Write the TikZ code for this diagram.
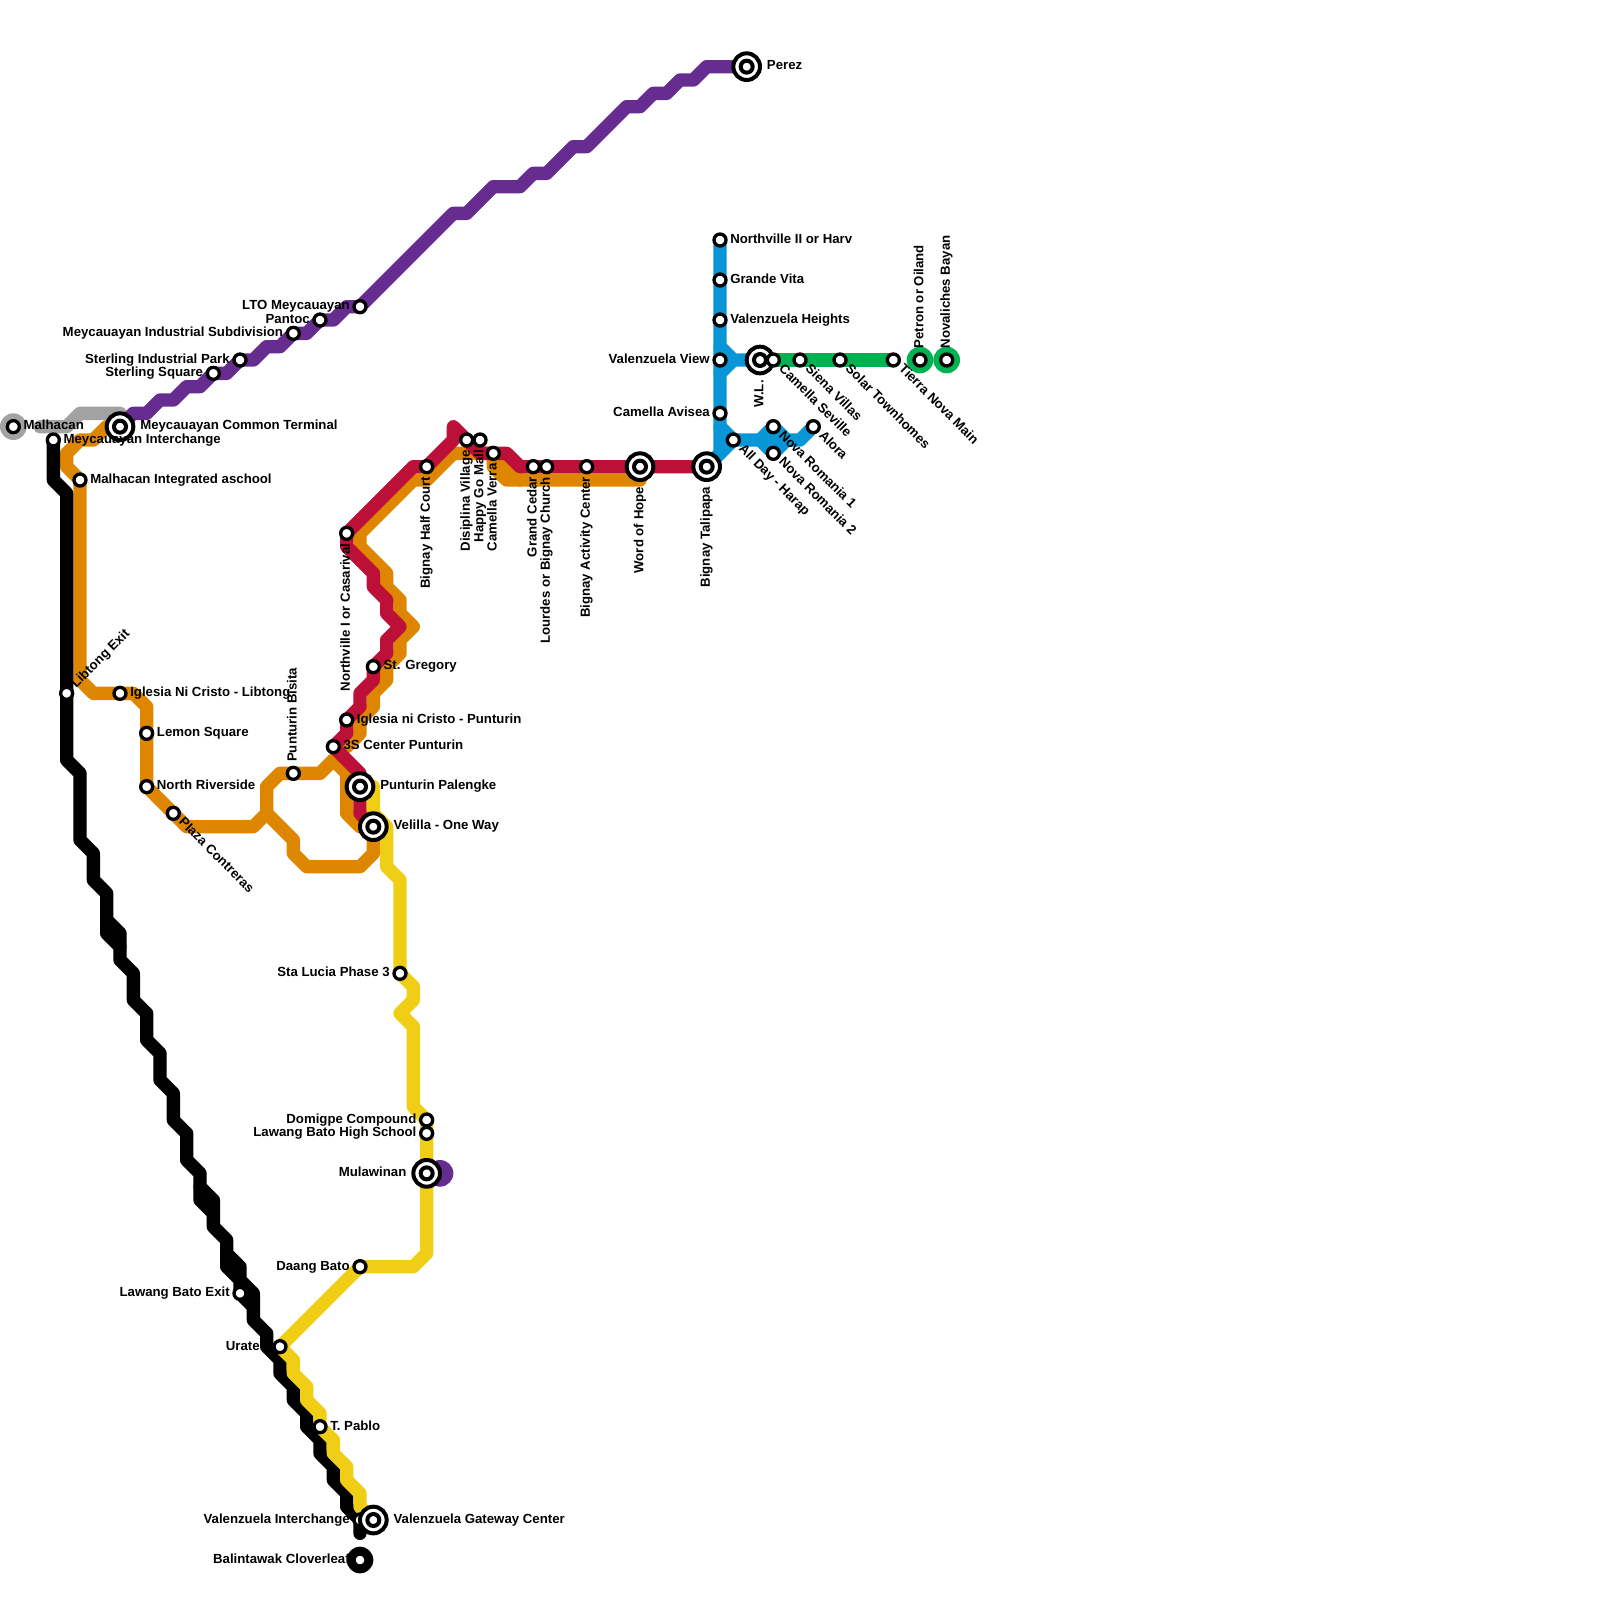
\documentclass[tikz,border=0pt]{standalone}
\usepackage{fontspec}
\setmainfont{Liberation Sans}
\usetikzlibrary{backgrounds}
\definecolor{lgray}{HTML}{A2A2A2}
\definecolor{lpurple}{HTML}{662C90}
\definecolor{lorange}{HTML}{DF8600}
\definecolor{lred}{HTML}{BD1038}
\definecolor{lyellow}{HTML}{F0CE15}
\definecolor{lblue}{HTML}{0896D7}
\definecolor{lgreen}{HTML}{00B251}
\begin{document}
\begin{tikzpicture}[x=0.33333cm, y=-0.33333cm]
    \tikzstyle{stn} = [circle, draw=black, fill=white, line width=0.0833cm, minimum size=0.3cm, inner sep=0pt, outer sep=0pt]
    \tikzstyle{hub} = [circle, draw=black, fill=white, line width=0.1cm, minimum size=0.667cm, inner sep=0pt, outer sep=0pt, path picture={\draw [line width=0.1cm, fill=white] (path picture bounding box.center) circle (0.15cm);}]
    \tikzstyle{txt} = [font=\bfseries\fontsize{9.4}{10}\selectfont, inner sep=0pt]
    \tikzstyle{lr} = [txt, anchor=base west, xshift=0.25cm, yshift=-0.083cm]
    \tikzstyle{ll} = [txt, anchor=base east, xshift=-0.25cm, yshift=-0.083cm]
    \tikzstyle{lrb} = [txt, anchor=base west, xshift=0.5cm, yshift=-0.083cm]
    \tikzstyle{llb} = [txt, anchor=base east, xshift=-0.5cm, yshift=-0.083cm]
    \tikzstyle{lu} = [txt, rotate=90, anchor=base west, xshift=0.28cm, yshift=-0.083cm]
    \tikzstyle{ld} = [txt, rotate=90, anchor=base east, xshift=-0.25cm, yshift=-0.083cm]
    \tikzstyle{ldb} = [txt, rotate=90, anchor=base east, xshift=-0.5cm, yshift=-0.083cm]
    \tikzstyle{lse} = [txt, rotate=-45, anchor=base west, xshift=0.25cm, yshift=-0.083cm]
    \tikzstyle{lne} = [txt, rotate=45, anchor=base west, xshift=0.25cm, yshift=-0.083cm]
    \tikzstyle{track} = [line width=0.3333cm, line cap=round, line join=round]

    \useasboundingbox (0,0) rectangle (120,120);

    % stations
    \node [stn] (mal) at (1,32) {};
    \node [hub] (mct) at (9,32) {};
    \node [stn] (mci) at (4,33) {};
    \node [stn] (mis) at (6,36) {};
    \node [stn] (lib) at (5,52) {};
    \node [stn] (inc) at (9,52) {};
    \node [stn] (lem) at (11,55) {};
    \node [stn] (nri) at (11,59) {};
    \node [stn] (pla) at (13,61) {};
    \node [stn] (pbi) at (22,58) {};
    \node [stn] (sts) at (16,28) {};
    \node [stn] (sip) at (18,27) {};
    \node [stn] (mid) at (22,25) {};
    \node [stn] (pan) at (24,24) {};
    \node [stn] (lto) at (27,23) {};
    \node [hub] (per) at (56,5) {};
    \node [stn] (noc) at (26,40) {};
    \node [stn] (bhc) at (32,35) {};
    \node [stn] (dis) at (35,33) {};
    \node [stn] (hgm) at (36,33) {};
    \node [stn] (cve) at (37,34) {};
    \node [stn] (gce) at (40,35) {};
    \node [stn] (lou) at (41,35) {};
    \node [stn] (bac) at (44,35) {};
    \node [hub] (woh) at (48,35) {};
    \node [hub] (bta) at (53,35) {};
    \node [stn] (stg) at (28,50) {};
    \node [stn] (icp) at (26,54) {};
    \node [stn] (scp) at (25,56) {};
    \node [hub] (ppa) at (27,59) {};
    \node [hub] (vel) at (28,62) {};
    \node [stn] (sta) at (30,73) {};
    \node [stn] (dom) at (32,84) {};
    \node [stn] (lbh) at (32,85) {};
    \node [hub] (mul) at (32,88) {};
    \node [stn] (dbt) at (27,95) {};
    \node [stn] (lbe) at (18,97) {};
    \node [stn] (ura) at (21,101) {};
    \node [stn] (tpa) at (24,107) {};
    \node [stn] (vin) at (27,114) {};
    \node [hub] (vgc) at (28,114) {};
    \node [stn] (bal) at (27,117) {};
    \node [stn] (nhv) at (54,18) {};
    \node [stn] (gvt) at (54,21) {};
    \node [stn] (vhe) at (54,24) {};
    \node [stn] (vvw) at (54,27) {};
    \node [stn] (cav) at (54,31) {};
    \node [stn] (ald) at (55,33) {};
    \node [hub] (wll) at (57,27) {};
    \node [stn] (cse) at (58,27) {};
    \node [stn] (sie) at (60,27) {};
    \node [stn] (sol) at (63,27) {};
    \node [stn] (tnm) at (67,27) {};
    \node [stn] (pet) at (69,27) {};
    \node [stn] (nov) at (71,27) {};
    \node [stn] (nr1) at (58,32) {};
    \node [stn] (nr2) at (58,34) {};
    \node [stn] (alo) at (61,32) {};

    % labels
    \node [lr] (tmal) at (mal) {Malhacan};
    \node [lrb] (tmct) at (mct) {Meycauayan Common Terminal};
    \node [lr] (tmci) at (mci) {Meycauayan Interchange};
    \node [lr] (tmis) at (mis) {Malhacan Integrated aschool};
    \node [lne] (tlib) at (lib) {Libtong Exit};
    \node [lr] (tinc) at (inc) {Iglesia Ni Cristo - Libtong};
    \node [lr] (tlem) at (lem) {Lemon Square};
    \node [lr] (tnri) at (nri) {North Riverside};
    \node [lse] (tpla) at (pla) {Plaza Contreras};
    \node [lu] (tpbi) at (pbi) {Punturin Bisita};
    \node [ll] (tsts) at (sts) {Sterling Square};
    \node [ll] (tsip) at (sip) {Sterling Industrial Park};
    \node [ll] (tmid) at (mid) {Meycauayan Industrial Subdivision};
    \node [ll] (tpan) at (pan) {Pantoc};
    \node [ll] (tlto) at (lto) {LTO Meycauayan};
    \node [lrb] (tper) at (per) {Perez};
    \node [ld] (tnoc) at (noc) {Northville I or Casarival};
    \node [ld] (tbhc) at (bhc) {Bignay Half Court};
    \node [ld] (tdis) at (dis) {Disiplina Village};
    \node [ld] (thgm) at (hgm) {Happy Go Mall};
    \node [ld] (tcve) at (cve) {Camella Verra};
    \node [ld] (tgce) at (gce) {Grand Cedar};
    \node [ld] (tlou) at (lou) {Lourdes or Bignay Church};
    \node [ld] (tbac) at (bac) {Bignay Activity Center};
    \node [ldb] (twoh) at (woh) {Word of Hope};
    \node [ldb] (tbta) at (bta) {Bignay Talipapa};
    \node [lr] (tstg) at (stg) {St. Gregory};
    \node [lr] (ticp) at (icp) {Iglesia ni Cristo - Punturin};
    \node [lr] (tscp) at (scp) {3S Center Punturin};
    \node [lrb] (tppa) at (ppa) {Punturin Palengke};
    \node [lrb] (tvel) at (vel) {Velilla - One Way};
    \node [ll] (tsta) at (sta) {Sta Lucia Phase 3};
    \node [ll] (tdom) at (dom) {Domigpe Compound};
    \node [ll] (tlbh) at (lbh) {Lawang Bato High School};
    \node [llb] (tmul) at (mul) {Mulawinan};
    \node [ll] (tdbt) at (dbt) {Daang Bato};
    \node [ll] (tlbe) at (lbe) {Lawang Bato Exit};
    \node [llb] (tura) at (ura) {Urate};
    \node [lr] (ttpa) at (tpa) {T. Pablo};
    \node [ll] (tvin) at (vin) {Valenzuela Interchange};
    \node [lrb] (tvgc) at (vgc) {Valenzuela Gateway Center};
    \node [ll] (tbal) at (bal) {Balintawak Cloverleaf};
    \node [lr] (tnhv) at (nhv) {Northville II or Harv};
    \node [lr] (tgvt) at (gvt) {Grande Vita};
    \node [lr] (tvhe) at (vhe) {Valenzuela Heights};
    \node [ll] (tvvw) at (vvw) {Valenzuela View};
    \node [ll] (tcav) at (cav) {Camella Avisea};
    \node [lse] (tald) at (ald) {All Day - Harap};
    \node [ldb] (twll) at (wll) {W.L.};
    \node [lse] (tcse) at (cse) {Camella Seville};
    \node [lse] (tsie) at (sie) {Siena Villas};
    \node [lse] (tsol) at (sol) {Solar Townhomes};
    \node [lse] (ttnm) at (tnm) {Tierra Nova Main};
    \node [lu] (tpet) at (pet) {Petron or Oiland};
    \node [lu] (tnov) at (nov) {Novaliches Bayan};
    \node [lse] (tnr1) at (nr1) {Nova Romania 1};
    \node [lse] (tnr2) at (nr2) {Nova Romania 2};
    \node [lse] (talo) at (alo) {Alora};

    % lines, behind the stations
    \begin{scope}[on background layer]
        \fill [lgray] (mal.center) circle (1);
        \draw [track, lgray] (3,32) -- (5,32) -- (6,31) -- (9,31);

        \draw [track, lorange] (mct.center) -- (8,32) -- (7,33) -- (6,33) -- (5,34) -- (5,35) -- (mis.center) -- (6,51) -- (7,52) -- (10,52) -- (11,53) -- (nri.center) -- (14,62) -- (19,62) -- (20,61) -- (20,59) -- (21,58) -- (24,58) -- (25,57) -- (26,58) -- (26,61) -- (27,62) -- (vel.center);
        \draw [track, lorange] (20,61) -- (22,63) -- (22,64) -- (23,65) -- (27,65) -- (28,64) -- (vel.center);
        \draw [track, lorange] (26,56) -- (27,55) -- (27,54) -- (28,53) -- (28,52) -- (29,51) -- (29,50) -- (30,49) -- (30,48) -- (31,47) -- (30,46) -- (30,45) -- (29,44) -- (29,43) -- (27,41) -- (27,40) -- (31,36) -- (32,36) -- (34,34) -- (37,34) -- (37,35) -- (38,36) -- (48,36) -- (woh.center);
        \draw [track, lorange] (37,34) -- (39,36);

        \draw [track, lred] (vel.center) -- (27,61) -- (ppa.center) -- (27,58) -- (scp.center) -- (26,55) -- (icp.center) -- (27,53) -- (27,52) -- (28,51) -- (stg.center) -- (29,49) -- (29,48) -- (30,47) -- (29,46) -- (29,45) -- (28,44) -- (28,43) -- (26,41) -- (noc.center) -- (31,35) -- (bhc.center) -- (34,33) -- (34,32) -- (36,34) -- (38,34) -- (39,35) -- (bta.center);

        \draw [track, black] (mci.center) -- (4,36) -- (5,37) -- (5,57) -- (6,58) -- (6,63) -- (7,64) -- (7,66) -- (8,67) -- (8,69) -- (9,70) -- (9,72) -- (10,73) -- (10,75) -- (11,76) -- (11,78) -- (12,79) -- (12,81) -- (13,82) -- (13,84) -- (14,85) -- (14,87) -- (15,88) -- (15,89) -- (16,90) -- (16,92) -- (17,93) -- (17,94) -- (18,95) -- (18,96) -- (19,97) -- (19,99) -- (20,100) -- (20,101) -- (21,102) -- (21,103) -- (22,104) -- (22,105) -- (23,106) -- (23,107) -- (24,108) -- (24,109) -- (25,110) -- (25,111) -- (26,112) -- (26,113) -- (vin.center) -- (27,115);
        \draw [track, black] (8,69) -- (8,70) -- (9,71);
        \draw [track, black] (15,89) -- (15,90) -- (16,91);
        \draw [track, black] (17,94) -- (17,95) -- (18,96) -- (lbe.center) -- (19,98);
        \fill [black] (bal.center) circle (1);

        \draw [track, lyellow] (28,59) -- (28,61) -- (29,62) -- (29,65) -- (30,66) -- (sta.center) -- (31,74) -- (31,75) -- (30,76) -- (31,77) -- (31,83) -- (dom.center) -- (mul.center) -- (32,94) -- (31,95) -- (dbt.center) -- (ura.center) -- (22,102) -- (22,103) -- (23,104) -- (23,105) -- (24,106) -- (tpa.center) -- (25,108) -- (25,109) -- (26,110) -- (26,111) -- (27,112) -- (27,113) -- (vgc.center);

        \draw [track, lblue] (nhv.center) -- (54,34) -- (bta.center);
        \draw [track, lblue] (54,26) -- (55,27) -- (wll.center);
        \draw [track, lblue] (54,28) -- (55,27);
        \draw [track, lblue] (54,32) -- (ald.center) -- (54,34);
        \draw [track, lblue] (ald.center) -- (59,33) -- (60,33) -- (alo.center);
        \draw [track, lblue] (57,33) -- (nr1.center) -- (59,33) -- (nr2.center) -- (57,33);

        \draw [track, lgreen] (cse.center) -- (tnm.center);
        \fill [lgreen] (pet.center) circle (1);
        \fill [lgreen] (nov.center) circle (1);

        \draw [track, lpurple] (mct.center) -- (10,31) -- (11,31) -- (12,30) -- (13,30) -- (14,29) -- (15,29) -- (sts.center) -- (17,28) -- (sip.center) -- (19,27) -- (20,26) -- (21,26) -- (mid.center) -- (23,25) -- (pan.center) -- (25,24) -- (26,23) -- (lto.center) -- (34,16) -- (35,16) -- (37,14) -- (39,14) -- (40,13) -- (41,13) -- (43,11) -- (44,11) -- (47,8) -- (48,8) -- (49,7) -- (50,7) -- (51,6) -- (52,6) -- (53,5) -- (per.center);
        \fill [lpurple] (33,88) circle (1);
    \end{scope}
\end{tikzpicture}
\end{document}
